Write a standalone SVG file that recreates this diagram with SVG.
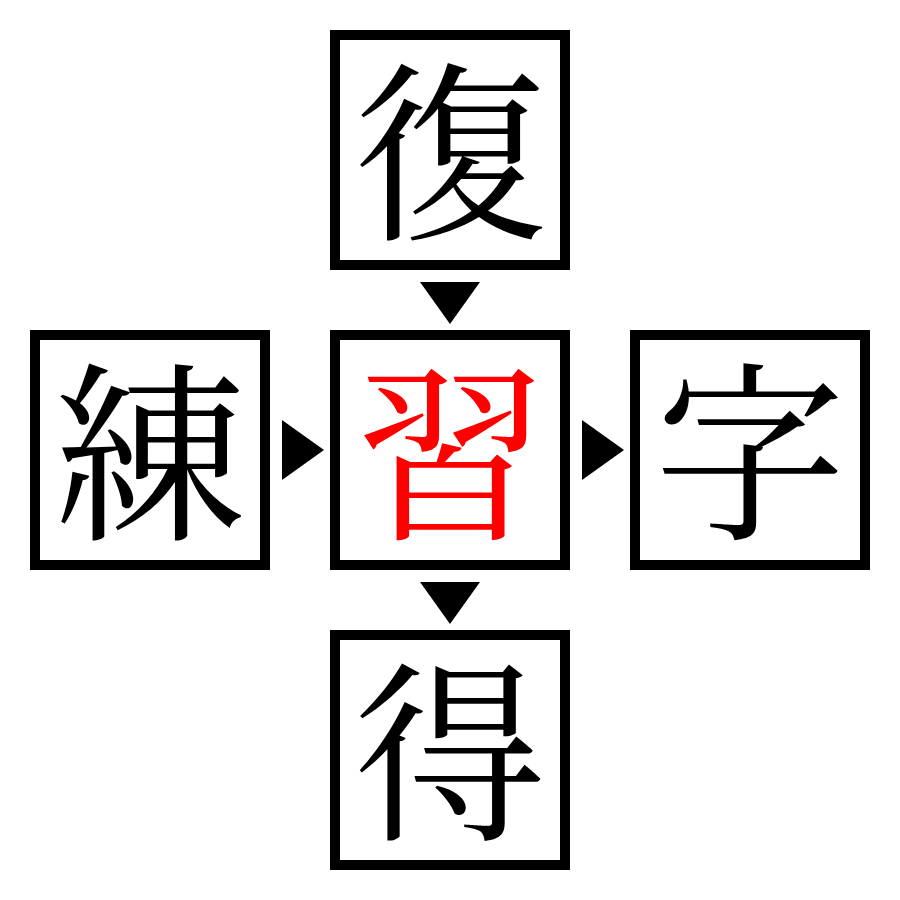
<svg xmlns="http://www.w3.org/2000/svg" width="900" height="900" viewBox="0 0 900 900">
<style>
.box{fill:#fff;stroke:#000;stroke-width:10}
.ch{font-family:"Noto Serif CJK JP","Noto Sans CJK JP",serif;font-size:192px;text-anchor:middle;fill:#000}
.red{fill:#ff0000}
.arr{fill:#000}
</style>
<rect width="900" height="900" fill="#fff"/>
<g id="n-top"><rect class="box" x="335" y="35" width="230" height="230"/><text class="ch" x="450" y="225">復</text></g>
<g id="n-left"><rect class="box" x="35" y="335" width="230" height="230"/><text class="ch" x="150" y="525">練</text></g>
<g id="n-center"><rect class="box" x="335" y="335" width="230" height="230"/><text class="ch red" x="450" y="525">習</text></g>
<g id="n-right"><rect class="box" x="635" y="335" width="230" height="230"/><text class="ch" x="750" y="525">字</text></g>
<g id="n-bottom"><rect class="box" x="335" y="635" width="230" height="230"/><text class="ch" x="450" y="825">得</text></g>
<g id="connectors">
<polygon class="arr" points="420,282 480,282 450,324"/>
<polygon class="arr" points="282,420 282,480 324,450"/>
<polygon class="arr" points="582,420 582,480 624,450"/>
<polygon class="arr" points="420,582 480,582 450,624"/>
</g>
</svg>
